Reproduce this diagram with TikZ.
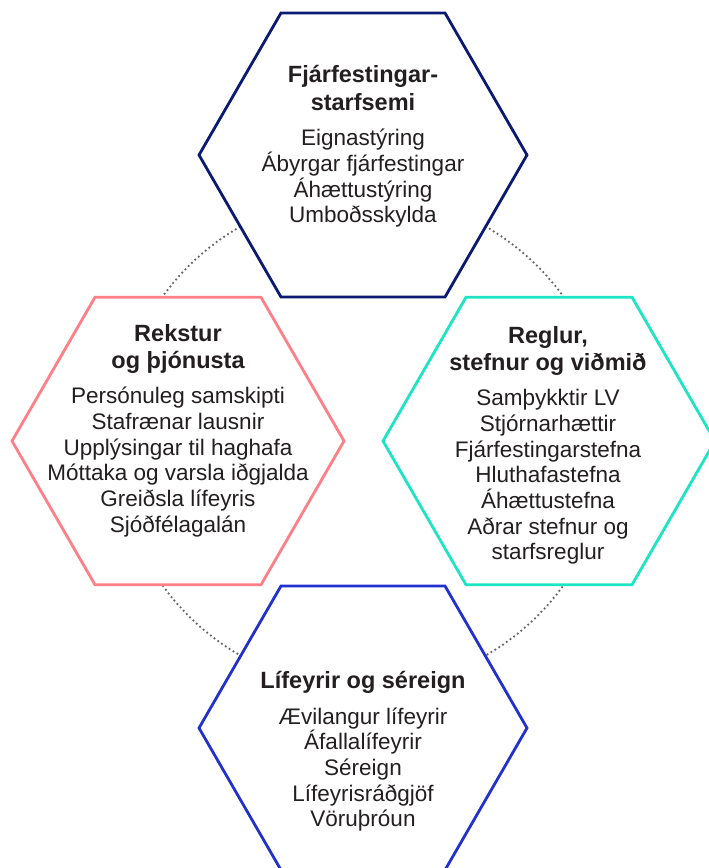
\documentclass[tikz,border=0pt]{standalone}
\usepackage{fontspec}
\setmainfont{Liberation Sans}
\usetikzlibrary{shapes.geometric}
\definecolor{invnavy}{HTML}{0A1972}
\definecolor{opspink}{HTML}{FF7F87}
\definecolor{polteal}{HTML}{1DE5C3}
\definecolor{penblue}{HTML}{2130CF}
\definecolor{txtgrey}{HTML}{231F20}
\newcommand{\hdr}[1]{{\fontsize{23.5}{27}\selectfont\bfseries #1}}
\begin{document}
\begin{tikzpicture}[x=1pt, y=-1pt,
	hex/.style={regular polygon, regular polygon sides=6, minimum size=#1, inner sep=0pt, line width=2.8pt, fill=white},
	lbl/.style={anchor=north, align=center, inner sep=0pt, text=txtgrey, font=\fontsize{22.5}{25.7}\selectfont}]
	\useasboundingbox (0,0) rectangle (709,868);
	\clip (0,0) rectangle (709,868);
	% dotted ring behind the hexagons
	\draw[black!60, line width=2.5pt, dash pattern=on 0pt off 4.6pt, line cap=round] (363,441) circle[radius=247];
	\node[hex=328pt, draw=invnavy] (inv) at (363,155) {};
	\node[hex=332pt, draw=opspink] (ops) at (178,441) {};
	\node[hex=332pt, draw=polteal] (pol) at (549,441) {};
	\node[hex=328pt, draw=penblue] (pen) at (363,728) {};
	\node[lbl] (invtxt) at (363,65) {\hdr{Fjárfestingar-}\\[2pt]\hdr{starfsemi}\\[10pt]
		Eignastýring\\Ábyrgar fjárfestingar\\Áhættustýring\\Umboðsskylda};
	\node[lbl] (opstxt) at (178,324) {\hdr{Rekstur}\\[2pt]\hdr{og þjónusta}\\[9pt]
		Persónuleg samskipti\\Stafrænar lausnir\\Upplýsingar til haghafa\\Móttaka og varsla iðgjalda\\Greiðsla lífeyris\\Sjóðfélagalán};
	\node[lbl] (poltxt) at (548,326) {\hdr{Reglur,}\\[2pt]\hdr{stefnur og viðmið}\\[9pt]
		Samþykktir LV\\Stjórnarhættir\\Fjárfestingarstefna\\Hluthafastefna\\Áhættustefna\\Aðrar stefnur og\\starfsreglur};
	\node[lbl] (pentxt) at (363,671) {\hdr{Lífeyrir og séreign}\\[10pt]
		Ævilangur lífeyrir\\Áfallalífeyrir\\Séreign\\Lífeyrisráðgjöf\\Vöruþróun};
\end{tikzpicture}
\end{document}
